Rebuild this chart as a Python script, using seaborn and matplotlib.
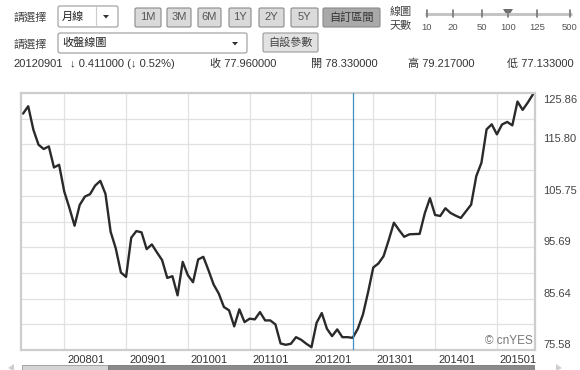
import numpy as np
import pandas as pd
import matplotlib
matplotlib.use("Agg")
import matplotlib.pyplot as plt
import matplotlib.transforms as mtransforms
from matplotlib.patches import Rectangle, FancyBboxPatch, Polygon
import seaborn as sns

# ---------------- data ----------------
start_month = "2007-05"
close_values = [
    121.83, 123.27, 118.69, 115.74, 114.90, 115.41, 111.29, 111.82, 106.57, 103.37,
    99.89, 103.96, 105.59, 106.06, 107.75, 108.67, 106.12, 98.72, 95.46, 90.74,
    89.88, 97.54, 98.85, 98.60, 95.32, 96.24, 94.67, 93.16, 89.68, 90.02,
    86.28, 92.82, 90.21, 88.84, 93.30, 93.81, 91.19, 88.39, 86.62, 83.99,
    83.34, 80.20, 83.53, 81.04, 81.71, 81.57, 83.00, 81.37, 81.37, 80.59,
    76.86, 76.60, 76.80, 78.09, 77.58, 76.80, 76.13, 80.92, 82.81, 79.74,
    78.29, 79.61, 78.09, 78.09, 77.96, 79.74, 82.55, 86.93, 91.72, 92.51,
    93.94, 97.09, 100.48, 99.05, 97.73, 98.21, 98.26, 98.30, 102.33, 105.28,
    102.00, 101.80, 103.31, 102.39, 101.86, 101.41, 102.72, 104.02, 109.60, 112.21,
    118.75, 119.73, 117.77, 119.70, 120.20, 119.53, 124.19, 122.56, 123.99, 125.60,
]
y_tick_labels = ["75.58", "85.64", "95.69", "105.75", "115.80", "125.86"]
y_min, y_max = 75.58, 125.86
selected_month = "201209"

header_row1 = ["請選擇", "月線"]
period_buttons = ["1M", "3M", "6M", "1Y", "2Y", "5Y", "自訂區間"]
slider_labels = ["10", "20", "50", "100", "125", "500"]
header_row2 = ["請選擇", "收盤線圖", "自設參數"]
info_date = "20120901"
info_change = "↓ 0.411000 (↓ 0.52%)"
info_fields = ["收 77.960000", "開 78.330000", "高 79.217000", "低 77.133000"]

months = pd.date_range(start_month, periods=len(close_values), freq="MS")
df = pd.DataFrame({
    "idx": np.arange(len(close_values)),
    "month": months.strftime("%Y%m"),
    "close": close_values,
})

# ---------------- figure ----------------
sns.set_theme(style="white")
plt.rcParams["font.family"] = ["Liberation Sans", "Noto Sans CJK TC", "DejaVu Sans"]

W, H = 580, 370
fig = plt.figure(figsize=(W / 100, H / 100), dpi=100)
fig.patch.set_facecolor("white")

L, R, T, B = 21, 535, 93, 350
ax = fig.add_axes([L / W, 1 - B / H, (R - L) / W, (B - T) / H])
ax.set_facecolor("white")

sns.lineplot(data=df, x="idx", y="close", ax=ax, color="#2a2a2a", lw=1.7)

ax.set_xlim(-0.4, len(close_values) - 0.6)
ax.set_ylim(y_min, y_max)

# grid
grid_vals = np.linspace(y_min, y_max, 11)
for gv in grid_vals[1:-1]:
    ax.axhline(gv, color="#e1e1e1", lw=0.9, zorder=0)
jan_idx = df.index[df["month"].str.endswith("01")].tolist()
for ji in jan_idx:
    ax.axvline(ji, color="#e1e1e1", lw=0.9, zorder=0)

# selected month marker
sel = df.index[df["month"] == selected_month][0]
ax.axvline(sel, color="#3d8fc6", lw=0.9, zorder=3)

ax.set_xlabel("")
ax.set_ylabel("")
ax.set_xticks([])
ax.set_yticks([])
for sp in ax.spines.values():
    sp.set_color("#cdcdcd")
    sp.set_linewidth(1.6)

# x labels (left aligned just right of gridline)
xtr = ax.get_xaxis_transform()
for ji in jan_idx:
    ax.text(ji, 0, df.loc[ji, "month"], transform=xtr + mtransforms.ScaledTranslation(3 / 100, -10 / 100, fig.dpi_scale_trans),
            ha="left", va="center", fontsize=8, color="#333333")

# y labels on right
ytr = ax.get_yaxis_transform()
for k, lab in enumerate(y_tick_labels):
    val = float(lab)
    dy = 5 if k < len(y_tick_labels) - 1 else -7
    ax.text(1, val, lab, transform=ytr + mtransforms.ScaledTranslation(8 / 100, dy / 100, fig.dpi_scale_trans),
            ha="left", va="center", fontsize=8, color="#444444")

ax.text(0.995, 0.035, "© cnYES", transform=ax.transAxes, ha="right", va="center",
        fontsize=8.5, color="#777777")

# ---------------- overlay (header UI) ----------------
ov = fig.add_axes([0, 0, 1, 1])
ov.set_xlim(0, W)
ov.set_ylim(H, 0)
ov.axis("off")

tc = "#444444"
fs = 8

def box(x0, y0, x1, y1, fc, ec, r=2):
    ov.add_patch(FancyBboxPatch((x0, y0), x1 - x0, y1 - y0,
                                boxstyle=f"round,pad=0,rounding_size={r}",
                                fc=fc, ec=ec, lw=0.8))

def arrow(cx, cy):
    ov.add_patch(Polygon([[cx - 3, cy - 1.5], [cx + 3, cy - 1.5], [cx, cy + 2]],
                         closed=True, fc="#333333", ec="none"))

# row 1
ov.text(13, 17, header_row1[0], fontsize=fs, color=tc, va="center", ha="left")
box(58, 6, 118, 27, "white", "#9a9a9a")
ov.plot([96, 96], [7, 26], color="#cccccc", lw=0.8)
ov.text(62, 16.5, header_row1[1], fontsize=fs, color="#222222", va="center", ha="left")
arrow(106, 16.5)

btn_x = [(135, 161), (167, 191), (198, 221), (229, 251), (259, 284), (291, 318), (323, 380)]
for (x0, x1), lab in zip(btn_x, period_buttons):
    special = lab == period_buttons[-1]
    box(x0, 8, x1, 27, "#a9a9a9" if special else "#dadada", "#8a8a8a", r=1.5)
    ov.text((x0 + x1) / 2, 17.5, lab, fontsize=fs, color="#333333" if special else "#555555",
            va="center", ha="center")

ov.text(390, 12, "線圖", fontsize=fs, color=tc, va="center", ha="left")
ov.text(390, 25, "天數", fontsize=fs, color=tc, va="center", ha="left")
slider_x = [427, 453, 482, 508, 537, 570]
ov.plot([425, 572], [14, 14], color="#c4c4c4", lw=2.2, solid_capstyle="butt")
for sx, lab in zip(slider_x, slider_labels):
    ov.plot([sx, sx], [10, 17], color="#777777", lw=1.2)
    ov.text(sx, 27, lab, fontsize=6.8, color="#555555", va="center", ha="center")
ov.add_patch(Polygon([[503, 9], [513, 9], [508, 17]], closed=True, fc="#6a6a6a", ec="none"))

# row 2
ov.text(13, 44, header_row2[0], fontsize=fs, color=tc, va="center", ha="left")
box(58, 33, 247, 53, "white", "#9a9a9a")
ov.text(62, 43, header_row2[1], fontsize=fs, color="#222222", va="center", ha="left")
arrow(235, 43.5)
box(263, 33, 318, 52, "#e2e2e2", "#999999", r=1.5)
ov.text(290.5, 42.5, header_row2[2], fontsize=fs, color="#444444", va="center", ha="center")

# row 3
ov.text(13, 64, info_date, fontsize=fs, color="#333333", va="center", ha="left")
ov.text(70, 64, info_change, fontsize=fs, color="#333333", va="center", ha="left")
for fx, txt in zip([210, 311, 408, 507], info_fields):
    ov.text(fx, 64, txt, fontsize=fs, color="#333333", va="center", ha="left")

# bottom scroll bar
ov.add_patch(Rectangle((22, 365), 86, 6, fc="#d4d4d4", ec="#9a9a9a", lw=0.6))
ov.add_patch(Rectangle((108, 365), 426, 6, fc="#8a8a8a", ec="#777777", lw=0.6))
ov.add_patch(Polygon([[8, 368], [14, 364], [14, 371]], closed=True, fc="#cfcfcf", ec="none"))
ov.add_patch(Polygon([[556, 364], [556, 371], [562, 368]], closed=True, fc="#cfcfcf", ec="none"))

fig.savefig("out.png", dpi=100)
